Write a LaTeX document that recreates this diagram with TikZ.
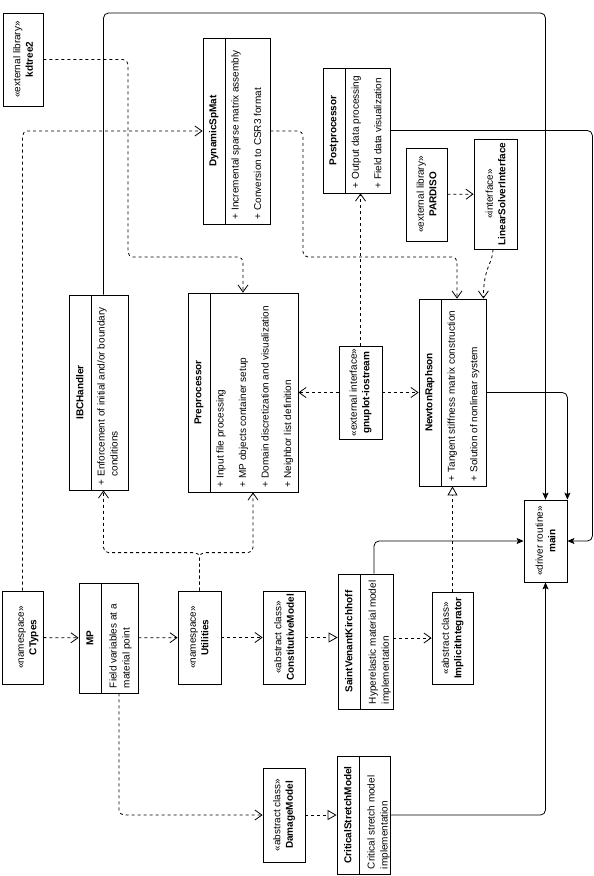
\documentclass[tikz,border=0pt]{standalone}
\usepackage{fontspec}
\setmainfont{Liberation Sans}
\usepackage{tikz}
\usetikzlibrary{arrows.meta,calc}

\begin{document}
\begin{tikzpicture}[x=1pt, y=-1pt, line width=0.8pt,
	umlbox/.style={draw, inner sep=0pt},
	umlclass/.style={umlbox, path picture={\draw ([xshift=22.5pt]path picture bounding box.north west) -- ([xshift=22.5pt]path picture bounding box.south west);}},
	stereo/.style={rotate=90, align=center, inner sep=0pt, font=\fontsize{10}{12.5}\selectfont},
	clsname/.style={rotate=90, inner sep=0pt, font=\fontsize{10}{12}\selectfont\bfseries},
	attrs/.style={rotate=90, anchor=north west, align=left, inner sep=0pt, font=\fontsize{10}{13}\selectfont},
	dep/.style={dash pattern=on 3pt off 3pt, rounded corners=5pt, -{Straight Barb[length=7pt,width=10pt]}},
	realize/.style={dash pattern=on 3pt off 3pt, -{Triangle[open,length=9pt,width=10pt,fill=white]}},
	assoc/.style={rounded corners=5pt, -{Stealth[length=7pt,width=6pt,inset=1.5pt]}}]
	\useasboundingbox (0,0) rectangle (594,876);

	\node (kd) at (23,59.5) [umlbox, minimum width=40pt, minimum height=93pt] {};
	\node (kd-t) at (kd) [stereo] {«external library»\\\textbf{kdtree2}};

	\node (dsm) at (236.5,131) [umlclass, minimum width=67pt, minimum height=186pt] {};
	\node (dsm-n) at ([xshift=11.25pt]dsm.west) [clsname] {DynamicSpMat};
	\node (dsm-a) at ([shift={(28.5pt,5pt)}]dsm.south west) [attrs] {+ Incremental sparse matrix assembly\\[9.5pt]+ Conversion to CSR3 format};

	\node (post) at (356.5,130.5) [umlclass, minimum width=67pt, minimum height=125pt] {};
	\node (post-n) at ([xshift=11.25pt]post.west) [clsname] {Postprocessor};
	\node (post-a) at ([shift={(28.5pt,5pt)}]post.south west) [attrs] {+ Output data processing\\[9.5pt]+ Field data visualization};

	\node (pardiso) at (426.5,194.5) [umlbox, minimum width=41pt, minimum height=93pt] {};
	\node (pardiso-t) at (pardiso) [stereo] {«external library»\\\textbf{PARDISO}};

	\node (lsi) at (495.5,194) [umlbox, minimum width=43pt, minimum height=110pt] {};
	\node (lsi-t) at (lsi) [stereo] {«interface»\\\textbf{LinearSolverInterface}};

	\node (ibc) at (98.5,392.5) [umlclass, minimum width=59pt, minimum height=195pt] {};
	\node (ibc-n) at ([xshift=11.25pt]ibc.west) [clsname] {IBCHandler};
	\node (ibc-a) at ([shift={(28.5pt,5pt)}]ibc.south west) [attrs] {+ Enforcement of initial and/or boundary\\\phantom{+ }conditions};

	\node (pre) at (243,392.5) [umlclass, minimum width=110pt, minimum height=199pt] {};
	\node (pre-n) at ([xshift=11.25pt]pre.west) [clsname] {Preprocessor};
	\node (pre-a) at ([shift={(28.5pt,5pt)}]pre.south west) [attrs] {+ Input file processing\\[9.5pt]+ MP objects container setup\\[9.5pt]+ Domain discretization and visualization\\[9.5pt]+ Neighbor list definition};

	\node (gp) at (360.5,392.5) [umlbox, minimum width=43pt, minimum height=93pt] {};
	\node (gp-t) at (gp) [stereo] {«external interface»\\\textbf{gnuplot-iostream}};

	\node (nr) at (452.5,392.5) [umlclass, minimum width=67pt, minimum height=187pt] {};
	\node (nr-n) at ([xshift=11.25pt]nr.west) [clsname] {NewtonRaphson};
	\node (nr-a) at ([shift={(28.5pt,5pt)}]nr.south west) [attrs] {+ Tangent stiffness matrix construction\\[9.5pt]+ Solution of nonlinear system};

	\node (main) at (545.5,541) [umlbox, minimum width=43pt, minimum height=82pt] {};
	\node (main-t) at (main) [stereo] {«driver routine»\\\textbf{main}};

	\node (ct) at (22.5,637.5) [umlbox, minimum width=41pt, minimum height=93pt] {};
	\node (ct-t) at ([xshift=6pt]ct) [stereo] {«namespace»\\\textbf{CTypes}};

	\node (mp) at (108.5,638) [umlclass, minimum width=59pt, minimum height=110pt] {};
	\node (mp-n) at ([xshift=11.25pt]mp.west) [clsname] {MP};
	\node (mp-a) at ([shift={(30.5pt,5pt)}]mp.south west) [attrs] {Field variables at a\\material point};

	\node (ut) at (199.5,637.5) [umlbox, minimum width=43pt, minimum height=93pt] {};
	\node (ut-t) at (ut) [stereo] {«namespace»\\\textbf{Utilities}};

	\node (cm) at (284,637.5) [umlbox, minimum width=42pt, minimum height=93pt] {};
	\node (cm-t) at (cm) [stereo] {«abstract class»\\\textbf{ConstitutiveModel}};

	\node (svk) at (365.5,641.5) [umlclass, minimum width=55pt, minimum height=135pt] {};
	\node (svk-n) at ([xshift=11.25pt]svk.west) [clsname] {SaintVenantKirchhoff};
	\node (svk-a) at ([shift={(30.5pt,5pt)}]svk.south west) [attrs] {Hyperelastic material model\\implementation};

	\node (ii) at (452.5,638) [umlbox, minimum width=41pt, minimum height=92pt] {};
	\node (ii-t) at (ii) [stereo] {«abstract class»\\\textbf{ImplicitIntegrator}};

	\node (dm) at (284,815) [umlbox, minimum width=42pt, minimum height=94pt] {};
	\node (dm-t) at (dm) [stereo] {«abstract class»\\\textbf{DamageModel}};

	\node (csm) at (363.5,815) [umlclass, minimum width=53pt, minimum height=118pt] {};
	\node (csm-n) at ([xshift=11.25pt]csm.west) [clsname] {CriticalStretchModel};
	\node (csm-a) at ([shift={(30.5pt,5pt)}]csm.south west) [attrs] {Critical stretch model\\implementation};

	\coordinate (fork) at ([yshift=38pt]ut.north);

	\draw[dep] (kd.east) -| (128,257) -| (pre.north);
	\draw[dep] (ct.north) |- (dsm.west);
	\draw[dep] (dsm.east) -| (303,257) -| ([xshift=4.5pt]nr.north);
	\draw[dep] (ut.north) -- (fork) -| ([xshift=5pt]ibc.south);
	\draw[dep] (ut.north) -- (fork) -| ([xshift=10pt]pre.south);
	\draw[dep] (gp) -- (pre);
	\draw[dep] (gp) -- (nr);
	\draw[dep] (gp.north) -- (gp.north |- post.south);
	\draw[dep] (pardiso) -- (lsi);
	\draw[dep] ([xshift=-2.5pt]lsi.south) .. controls ([xshift=-2.5pt,yshift=-14pt]lsi.south) and ([xshift=-3pt,yshift=32pt]nr.north east) .. ([xshift=-3pt]nr.north east);
	\draw[dep] (ct) -- (mp);
	\draw[dep] (mp) -- (ut);
	\draw[dep] (ut) -- (cm);
	\draw[dep] (ii.west -| svk.east) -- (ii.west);
	\draw[dep] ([xshift=10.5pt]mp.south) |- (dm.west);
	\draw[realize] (cm.east) -- (cm.east -| svk.west);
	\draw[realize] (dm) -- (csm);
	\draw[realize] (ii) -- (nr);
	\draw[assoc] ([xshift=5pt]ibc.north) |- (300,13) -| (main.north);
	\draw[assoc] (post.east) -| ([xshift=25pt]main.east) -- (main.east);
	\draw[assoc] (nr.east) -| (main.north east);
	\draw[assoc] ([xshift=8.5pt]svk.north) |- (main.west);
	\draw[assoc] (csm.east) -| (main.south);
\end{tikzpicture}
\end{document}
